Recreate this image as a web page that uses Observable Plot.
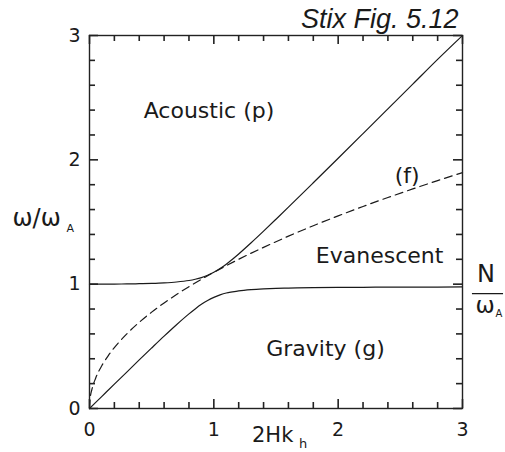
<!DOCTYPE html>
<html>
<head>
<meta charset="utf-8">
<script src="https://cdn.jsdelivr.net/npm/d3@7"></script>
<script src="https://cdn.jsdelivr.net/npm/@observablehq/plot@0.6"></script>
<style>
  html, body { margin: 0; padding: 0; background: #fff; }
</style>
</head>
<body>
<div id="chart"></div>
<script>
// ---- data ----
const kh = [0, 0.05, 0.1, 0.2, 0.3, 0.4, 0.5, 0.6, 0.7, 0.8, 0.85, 0.9, 0.95, 1.0, 1.05, 1.1, 1.15, 1.2, 1.3, 1.4, 1.5, 1.6, 1.8, 2.0, 2.2, 2.4, 2.6, 2.8, 3.0];
const acoustic = [1.000, 1.000, 1.0002, 1.0008, 1.0019, 1.0037, 1.0065, 1.0107, 1.0176, 1.0297, 1.0396, 1.0525, 1.0712, 1.0954, 1.1258, 1.1609, 1.2009, 1.2429, 1.3328, 1.4265, 1.5224, 1.6194, 1.8155, 2.0129, 2.2112, 2.4099, 2.6088, 2.8080, 3.0];
const gravity = [0, 0.049, 0.098, 0.196, 0.293, 0.391, 0.487, 0.582, 0.674, 0.761, 0.801, 0.838, 0.869, 0.894, 0.914, 0.929, 0.938, 0.946, 0.956, 0.962, 0.966, 0.968, 0.972, 0.974, 0.975, 0.976, 0.977, 0.977, 0.978];
const fKh = [0, 0.005, 0.02, 0.05, 0.1, 0.15, 0.2, 0.3, 0.4, 0.5, 0.6, 0.7, 0.8, 0.9, 1.0, 1.2, 1.4, 1.6, 1.8, 2.0, 2.2, 2.4, 2.6, 2.8, 3.0];
const fMode = [0, 0.077, 0.155, 0.245, 0.346, 0.424, 0.490, 0.600, 0.693, 0.775, 0.849, 0.917, 0.980, 1.039, 1.095, 1.200, 1.296, 1.386, 1.470, 1.549, 1.625, 1.697, 1.766, 1.833, 1.897];
const nOverOmegaA = 0.98;
const majorTicks = [0, 1, 2, 3];
const minorTicks = [0.2, 0.4, 0.6, 0.8, 1.2, 1.4, 1.6, 1.8, 2.2, 2.4, 2.6, 2.8];
const regionLabels = [
  {x: 0.961, y: 2.39, text: "Acoustic (p)"},
  {x: 2.555, y: 1.87, text: "(f)"},
  {x: 2.333, y: 1.228, text: "Evanescent"},
  {x: 1.898, y: 0.478, text: "Gravity (g)"}
];
const titleText = "Stix Fig. 5.12";

// ---- build ----
const W = 505, H = 452, mL = 89, mR = 43, mT = 35, mB = 44;
const pw = W - mL - mR, ph = H - mT - mB;
const ink = "#1a1a1a", frameInk = "#222";
const minorLen = 6, majorLen = 9;

const upper = kh.map((x, i) => ({x, y: acoustic[i]}));
const lower = kh.map((x, i) => ({x, y: gravity[i]}));
const fline = fKh.map((x, i) => ({x, y: fMode[i]}));

// inward ticks on all four sides of the box
function inwardTicks(values, len) {
  const o = {stroke: frameInk, strokeWidth: 1.6};
  return [
    Plot.ruleX(values, {x: d => d, insetTop: ph - len, ...o}),
    Plot.ruleX(values, {x: d => d, insetBottom: ph - len, ...o}),
    Plot.ruleY(values, {y: d => d, insetRight: pw - len, ...o}),
    Plot.ruleY(values, {y: d => d, insetLeft: pw - len, ...o})
  ];
}

const chart = Plot.plot({
  width: W, height: H,
  marginLeft: mL, marginRight: mR, marginTop: mT, marginBottom: mB,
  x: {domain: [0, 3]},
  y: {domain: [0, 3]},
  style: {fontFamily: "DejaVu Sans", fontSize: "19px"},
  marks: [
    Plot.axisX({ticks: majorTicks, tickSize: 0, tickPadding: 14, tickFormat: d => String(d), label: null, fontSize: 19, fill: ink}),
    Plot.axisY({ticks: majorTicks, tickSize: 0, tickPadding: 9, tickFormat: d => String(d), label: null, fontSize: 19, fill: ink}),
    // curves
    Plot.line(upper, {x: "x", y: "y", stroke: ink, strokeWidth: 1.2, curve: "monotone-x"}),
    Plot.line(lower, {x: "x", y: "y", stroke: ink, strokeWidth: 1.2, curve: "monotone-x"}),
    Plot.line(fline, {x: "x", y: "y", stroke: ink, strokeWidth: 1.2, strokeDasharray: "8,5", curve: "monotone-x"}),
    Plot.frame({stroke: frameInk, strokeWidth: 1.4}),
    ...inwardTicks(minorTicks, minorLen),
    ...inwardTicks(majorTicks, majorLen),
    // region labels
    Plot.text(regionLabels, {x: "x", y: "y", text: "text", fontSize: 22, fill: ink}),
    // title
    Plot.text([titleText], {frameAnchor: "top-right", text: d => d, textAnchor: "end", lineAnchor: "middle", dx: -4, dy: -16,
      fontSize: 27, fontStyle: "italic", fontFamily: "Liberation Sans", fill: ink}),
    // y label  ω/ω_A
    Plot.text(["ω/ω"], {frameAnchor: "left", text: d => d, textAnchor: "start", lineAnchor: "middle", dx: -77, dy: -4, fontSize: 24, letterSpacing: 5, fill: ink}),
    Plot.text(["A"], {frameAnchor: "left", text: d => d, textAnchor: "start", lineAnchor: "middle", dx: -23, dy: 6, fontSize: 11, fill: ink}),
    // x label  2Hk_h
    Plot.text(["2Hk"], {frameAnchor: "bottom", text: d => d, textAnchor: "start", lineAnchor: "middle", dx: -24, dy: 27, fontSize: 21, letterSpacing: 1.5, fill: ink}),
    Plot.text(["h"], {frameAnchor: "bottom", text: d => d, textAnchor: "start", lineAnchor: "middle", dx: 23, dy: 35.5, fontSize: 13, fill: ink}),
    // N/ω_A on the right at the gravity asymptote
    Plot.text([nOverOmegaA], {x: 3, y: d => d, text: () => "N", textAnchor: "middle", dx: 23.5, dy: -12, fontSize: 24, fill: ink}),
    Plot.ruleY([nOverOmegaA], {x1: 3.08, x2: 3.33, dy: 7, stroke: ink, strokeWidth: 1.2}),
    Plot.text([nOverOmegaA], {x: 3, y: d => d, text: () => "ω", textAnchor: "start", dx: 13, dy: 19, fontSize: 23, fill: ink}),
    Plot.text([nOverOmegaA], {x: 3, y: d => d, text: () => "A", textAnchor: "start", dx: 33, dy: 27, fontSize: 10, fill: ink})
  ]
});
document.getElementById("chart").appendChild(chart);
</script>
</body>
</html>
